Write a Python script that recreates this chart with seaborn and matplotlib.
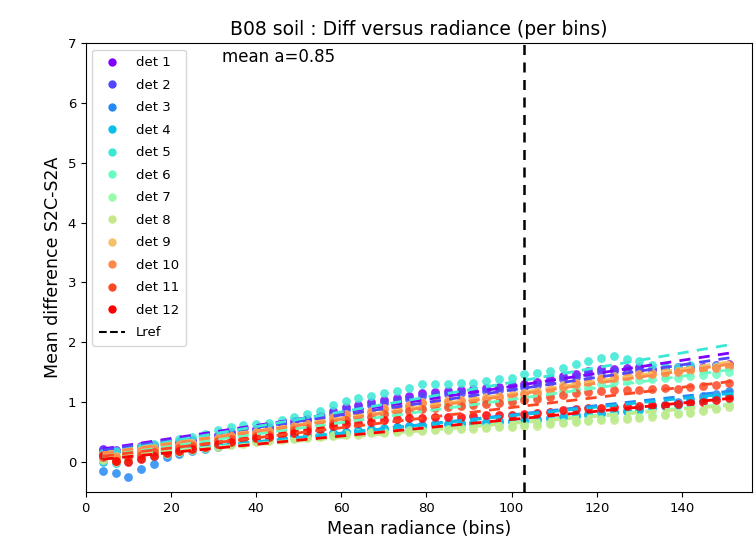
import numpy as np
import pandas as pd
import matplotlib
matplotlib.use("Agg")
import matplotlib.pyplot as plt
import seaborn as sns
from matplotlib.lines import Line2D

# ---------------- data ----------------
radiance_bins = [4, 7, 10, 13, 16, 19, 22, 25, 28, 31, 34, 37, 40, 43, 46, 49, 52, 55, 58, 61,
                 64, 67, 70, 73, 76, 79, 82, 85, 88, 91, 94, 97, 100, 103, 106, 109, 112, 115, 118, 121,
                 124, 127, 130, 133, 136, 139, 142, 145, 148, 151]

det1 = [0.22, 0.20, 0.24, 0.27, 0.29, 0.31, 0.34, 0.37, 0.41, 0.46,
        0.50, 0.54, 0.56, 0.58, 0.63, 0.68, 0.72, 0.77, 0.86, 0.92,
        0.96, 1.00, 1.04, 1.07, 1.10, 1.16, 1.17, 1.19, 1.20, 1.22,
        1.24, 1.26, 1.28, 1.30, 1.33, 1.38, 1.43, 1.47, 1.52, 1.55,
        1.56, 1.57, 1.58, 1.56, 1.57, 1.58, 1.60, 1.59, 1.62, 1.63]
det2 = [0.20, 0.18, 0.22, 0.25, 0.27, 0.29, 0.32, 0.35, 0.39, 0.43,
        0.47, 0.51, 0.53, 0.55, 0.60, 0.64, 0.68, 0.73, 0.81, 0.87,
        0.91, 0.95, 0.99, 1.02, 1.05, 1.10, 1.12, 1.14, 1.15, 1.17,
        1.19, 1.21, 1.23, 1.26, 1.29, 1.33, 1.38, 1.42, 1.47, 1.50,
        1.52, 1.53, 1.54, 1.53, 1.54, 1.55, 1.57, 1.56, 1.58, 1.60]
det3 = [-0.15, -0.18, -0.25, -0.12, -0.04, 0.08, 0.14, 0.18, 0.22, 0.26,
        0.30, 0.33, 0.36, 0.38, 0.40, 0.42, 0.44, 0.46, 0.48, 0.50,
        0.52, 0.54, 0.56, 0.58, 0.60, 0.62, 0.63, 0.64, 0.65, 0.66,
        0.67, 0.68, 0.69, 0.70, 0.72, 0.74, 0.76, 0.78, 0.80, 0.82,
        0.84, 0.86, 0.88, 0.92, 0.96, 1.00, 1.05, 1.10, 1.14, 1.19]
det4 = [0.00, -0.02, 0.02, 0.06, 0.10, 0.14, 0.17, 0.20, 0.24, 0.28,
        0.31, 0.34, 0.37, 0.39, 0.41, 0.43, 0.45, 0.47, 0.49, 0.51,
        0.53, 0.55, 0.57, 0.59, 0.60, 0.61, 0.62, 0.63, 0.64, 0.65,
        0.66, 0.67, 0.68, 0.69, 0.71, 0.73, 0.75, 0.77, 0.79, 0.81,
        0.83, 0.85, 0.87, 0.90, 0.93, 0.96, 1.00, 1.04, 1.08, 1.12]
det5 = [0.15, 0.18, 0.22, 0.26, 0.30, 0.34, 0.38, 0.42, 0.47, 0.53,
        0.58, 0.62, 0.64, 0.65, 0.70, 0.76, 0.80, 0.86, 0.96, 1.02,
        1.07, 1.10, 1.15, 1.19, 1.24, 1.30, 1.30, 1.30, 1.32, 1.32,
        1.35, 1.39, 1.41, 1.47, 1.49, 1.52, 1.57, 1.64, 1.69, 1.74,
        1.77, 1.72, 1.69, 1.62, 1.60, 1.58, 1.62, 1.57, 1.60, 1.58]
det6 = [0.10, 0.08, 0.12, 0.16, 0.20, 0.23, 0.26, 0.29, 0.33, 0.37,
        0.40, 0.44, 0.46, 0.48, 0.51, 0.55, 0.58, 0.62, 0.68, 0.72,
        0.75, 0.78, 0.82, 0.85, 0.88, 0.91, 0.93, 0.95, 0.96, 0.98,
        1.00, 1.02, 1.04, 1.07, 1.10, 1.14, 1.18, 1.22, 1.26, 1.30,
        1.33, 1.35, 1.37, 1.38, 1.40, 1.41, 1.43, 1.45, 1.47, 1.50]
det7 = [0.05, 0.02, 0.06, 0.10, 0.13, 0.16, 0.19, 0.22, 0.25, 0.28,
        0.31, 0.33, 0.35, 0.37, 0.39, 0.41, 0.42, 0.44, 0.46, 0.47,
        0.48, 0.50, 0.51, 0.52, 0.53, 0.54, 0.55, 0.56, 0.57, 0.58,
        0.59, 0.60, 0.61, 0.62, 0.63, 0.65, 0.67, 0.69, 0.70, 0.72,
        0.73, 0.74, 0.76, 0.78, 0.80, 0.82, 0.84, 0.87, 0.90, 0.95]
det8 = [0.03, 0.00, 0.04, 0.08, 0.11, 0.14, 0.17, 0.20, 0.23, 0.26,
        0.29, 0.31, 0.33, 0.35, 0.37, 0.39, 0.40, 0.42, 0.44, 0.45,
        0.46, 0.48, 0.49, 0.50, 0.51, 0.52, 0.53, 0.54, 0.55, 0.56,
        0.57, 0.58, 0.59, 0.60, 0.61, 0.63, 0.65, 0.67, 0.68, 0.70,
        0.71, 0.72, 0.74, 0.76, 0.78, 0.80, 0.82, 0.85, 0.88, 0.92]
det9 = [0.12, 0.10, 0.15, 0.20, 0.23, 0.26, 0.29, 0.32, 0.36, 0.40,
        0.44, 0.48, 0.50, 0.52, 0.56, 0.60, 0.64, 0.68, 0.75, 0.80,
        0.83, 0.86, 0.90, 0.93, 0.96, 1.00, 1.01, 1.03, 1.04, 1.06,
        1.08, 1.10, 1.12, 1.15, 1.18, 1.22, 1.28, 1.32, 1.36, 1.40,
        1.43, 1.45, 1.47, 1.48, 1.50, 1.52, 1.54, 1.55, 1.58, 1.60]
det10 = [0.10, 0.08, 0.13, 0.18, 0.22, 0.25, 0.28, 0.31, 0.35, 0.39,
         0.43, 0.47, 0.49, 0.51, 0.55, 0.59, 0.63, 0.67, 0.73, 0.78,
         0.81, 0.84, 0.88, 0.91, 0.94, 0.98, 0.99, 1.01, 1.02, 1.04,
         1.06, 1.08, 1.10, 1.13, 1.16, 1.20, 1.26, 1.30, 1.34, 1.38,
         1.41, 1.43, 1.45, 1.47, 1.49, 1.50, 1.53, 1.55, 1.57, 1.62]
det11 = [0.08, 0.02, 0.08, 0.12, 0.17, 0.21, 0.24, 0.27, 0.31, 0.35,
         0.39, 0.42, 0.44, 0.46, 0.50, 0.53, 0.57, 0.60, 0.66, 0.70,
         0.73, 0.76, 0.80, 0.83, 0.85, 0.88, 0.90, 0.92, 0.93, 0.95,
         0.97, 0.99, 1.01, 1.03, 1.05, 1.08, 1.12, 1.15, 1.17, 1.19,
         1.20, 1.21, 1.20, 1.22, 1.23, 1.22, 1.25, 1.27, 1.28, 1.32]
det12 = [0.12, 0.02, 0.00, 0.05, 0.10, 0.15, 0.18, 0.22, 0.26, 0.30,
         0.34, 0.38, 0.40, 0.42, 0.45, 0.48, 0.52, 0.55, 0.60, 0.63,
         0.65, 0.67, 0.70, 0.72, 0.73, 0.74, 0.75, 0.76, 0.76, 0.77,
         0.78, 0.78, 0.79, 0.80, 0.82, 0.84, 0.87, 0.89, 0.90, 0.91,
         0.92, 0.93, 0.94, 0.95, 0.96, 0.97, 0.99, 1.00, 1.03, 1.07]

detector_names = ["det 1", "det 2", "det 3", "det 4", "det 5", "det 6",
                  "det 7", "det 8", "det 9", "det 10", "det 11", "det 12"]
detector_values = [det1, det2, det3, det4, det5, det6, det7, det8, det9, det10, det11, det12]

# linear fit per detector (slope, intercept)
fit_slope = [0.01088, 0.01047, 0.00770, 0.00723, 0.01230, 0.00966,
             0.00588, 0.00588, 0.01034, 0.01007, 0.00845, 0.00689]
fit_intercept = [0.176, 0.158, 0.019, 0.051, 0.101, 0.081,
                 0.076, 0.056, 0.109, 0.110, 0.066, 0.022]
fit_x_range = [4, 152]

lref = 103.0
mean_a = 0.85

title = "B08 soil : Diff versus radiance (per bins)"
xlabel = "Mean radiance (bins)"
ylabel = "Mean difference S2C-S2A"
xticks = [0, 20, 40, 60, 80, 100, 120, 140]
yticks = [0, 1, 2, 3, 4, 5, 6, 7]

# ---------------- plot ----------------
plt.rcParams["font.family"] = ["DejaVu Sans"]
fig = plt.figure(figsize=(7.56, 5.49), dpi=100)
ax = fig.add_axes([0.1135, 0.1038, 0.8815, 0.8180])

colors = plt.cm.rainbow(np.linspace(0, 1, len(detector_names)))

handles = []
for name, vals, col, a, b in zip(detector_names, detector_values, colors, fit_slope, fit_intercept):
    df = pd.DataFrame({"x": radiance_bins, "y": vals})
    sns.scatterplot(data=df, x="x", y="y", color=col, s=40, linewidth=0, alpha=0.85,
                    ax=ax, legend=False, zorder=2)
    fx = np.array(fit_x_range, dtype=float)
    fdf = pd.DataFrame({"x": fx, "y": a * fx + b})
    sns.lineplot(data=fdf, x="x", y="y", color=col, linestyle=(0, (4, 3)), linewidth=2,
                 ax=ax, legend=False, zorder=3)
    handles.append(Line2D([], [], marker="o", linestyle="none", color=col,
                          markersize=6, markeredgewidth=0, label=name))

ax.axvline(lref, color="black", linestyle=(0, (4, 3)), linewidth=1.8, zorder=4)
handles.append(Line2D([], [], color="black", linestyle="--", linewidth=1.5, label="Lref"))

ax.set_xlim(0, 156.5)
ax.set_ylim(-0.5, 7)
ax.set_xticks(xticks)
ax.set_yticks(yticks)
ax.tick_params(labelsize=9.5)
ax.set_xlabel(xlabel, fontsize=12.5)
ax.set_ylabel(ylabel, fontsize=12.5)
ax.set_title(title, fontsize=13.5)

ax.text(0.205, 0.988, f"mean a={mean_a}", transform=ax.transAxes, fontsize=12,
        va="top", ha="left")

leg = ax.legend(handles=handles, loc="upper left", fontsize=9.5, labelspacing=0.72,
                handlelength=2.0, borderpad=0.5, framealpha=0.8)

fig.savefig("out.png", dpi=100)
